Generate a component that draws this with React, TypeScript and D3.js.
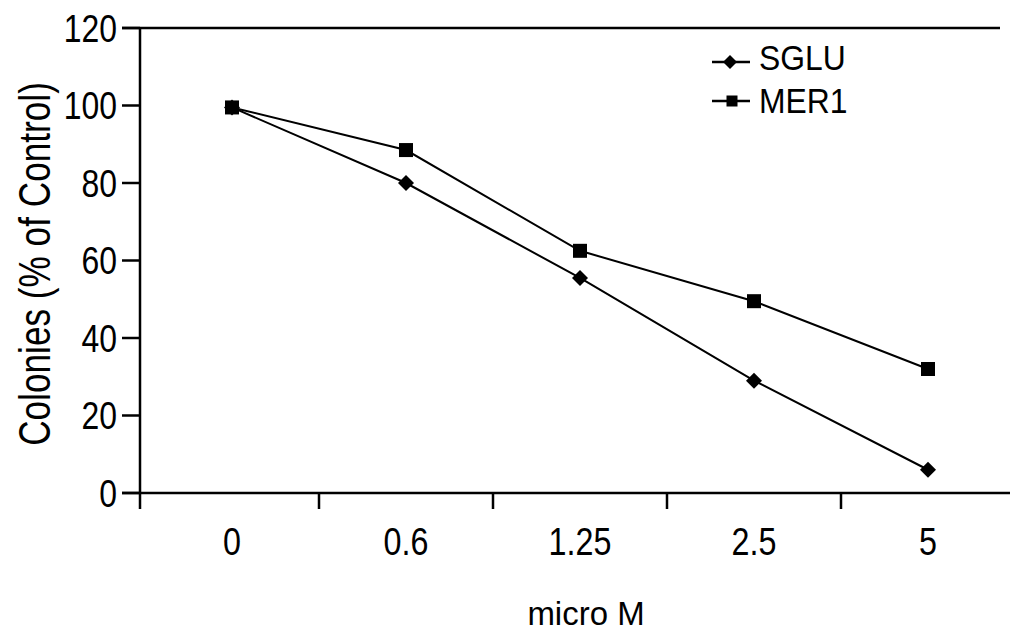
import React from "react";
import * as d3 from "d3";

const categories = ["0", "0.6", "1.25", "2.5", "5"];
const sgluValues = [99.5, 80, 55.5, 29, 6];
const mer1Values = [99.5, 88.5, 62.5, 49.5, 32];
const yTicks = [0, 20, 40, 60, 80, 100, 120];

const FONT = "'Liberation Sans', Arial, sans-serif";

function T(props: {
  x: number;
  y: number;
  size: number;
  sx: number;
  anchor?: "start" | "middle" | "end";
  rotate?: number;
  dy?: string;
  children: React.ReactNode;
}) {
  const { x, y, size, sx, anchor = "start", rotate = 0, dy, children } = props;
  return (
    <text
      transform={`translate(${x},${y}) rotate(${rotate}) scale(${sx},1)`}
      textAnchor={anchor}
      dy={dy}
      fontFamily={FONT}
      fontSize={size}
      fill="#000"
    >
      {children}
    </text>
  );
}

export default function App() {
  const W = 1010, H = 633;
  const left = 140, right = 1014, top = 28, bottom = 493;
  const x = d3.scaleBand<string>().domain(categories).range([145, 1015]);
  const y = d3.scaleLinear().domain([0, 120]).range([bottom, top]);
  const cx = (c: string) => (x(c) as number) + x.bandwidth() / 2;
  const line = d3.line<number>().x((_, i) => cx(categories[i])).y((v) => y(v));
  const bandEdges = categories.slice(1).map((c) => x(c) as number);

  const diamond = (px: number, py: number, k: string, s = 8) => (
    <path key={k} d={`M${px},${py - s}L${px + s},${py}L${px},${py + s}L${px - s},${py}Z`} fill="#000" />
  );
  const square = (px: number, py: number, k: string, s = 7) => (
    <rect key={k} x={px - s} y={py - s} width={2 * s} height={2 * s} fill="#000" />
  );

  return (
    <svg width={W} height={H} style={{ position: "absolute", left: 0, top: 0, background: "#fff" }}>
      <rect width={W} height={H} fill="#fff" />
      {/* axes */}
      <line x1={left} x2={left} y1={top} y2={bottom + 16} stroke="#000" strokeWidth={2.5} />
      <line x1={left - 18} x2={right} y1={bottom} y2={bottom} stroke="#000" strokeWidth={2.5} />
      <line x1={left - 18} x2={1000} y1={top} y2={top} stroke="#000" strokeWidth={2.5} />
      {yTicks.map((t) => (
        <g key={t}>
          <line x1={left - 18} x2={left} y1={y(t)} y2={y(t)} stroke="#000" strokeWidth={2.5} />
          <T x={117} y={y(t)} dy="0.36em" size={38} sx={0.84} anchor="end">
            {t}
          </T>
        </g>
      ))}
      {bandEdges.map((e, i) => (
        <line key={i} x1={e} x2={e} y1={bottom} y2={bottom + 16} stroke="#000" strokeWidth={2.5} />
      ))}
      {categories.map((c) => (
        <T key={c} x={cx(c)} y={555} size={38} sx={0.85} anchor="middle">
          {c}
        </T>
      ))}
      <T x={586} y={625} size={34} sx={0.97} anchor="middle">micro M</T>
      <T x={50} y={264} size={44} sx={0.8} anchor="middle" rotate={-90}>
        Colonies (% of Control)
      </T>
      {/* series */}
      <path d={line(sgluValues) || ""} fill="none" stroke="#000" strokeWidth={2} />
      <path d={line(mer1Values) || ""} fill="none" stroke="#000" strokeWidth={2} />
      {sgluValues.map((v, i) => diamond(cx(categories[i]), y(v), "s" + i))}
      {mer1Values.map((v, i) => square(cx(categories[i]), y(v), "m" + i))}
      {/* legend */}
      <line x1={712} x2={750} y1={62} y2={62} stroke="#000" strokeWidth={2.5} />
      {diamond(730, 62, "ld", 7)}
      <T x={759} y={70} size={35} sx={0.91}>SGLU</T>
      <line x1={712} x2={750} y1={101} y2={101} stroke="#000" strokeWidth={2.5} />
      {square(732, 101, "lm", 5.5)}
      <T x={759} y={113} size={35} sx={0.91}>MER1</T>
    </svg>
  );
}
